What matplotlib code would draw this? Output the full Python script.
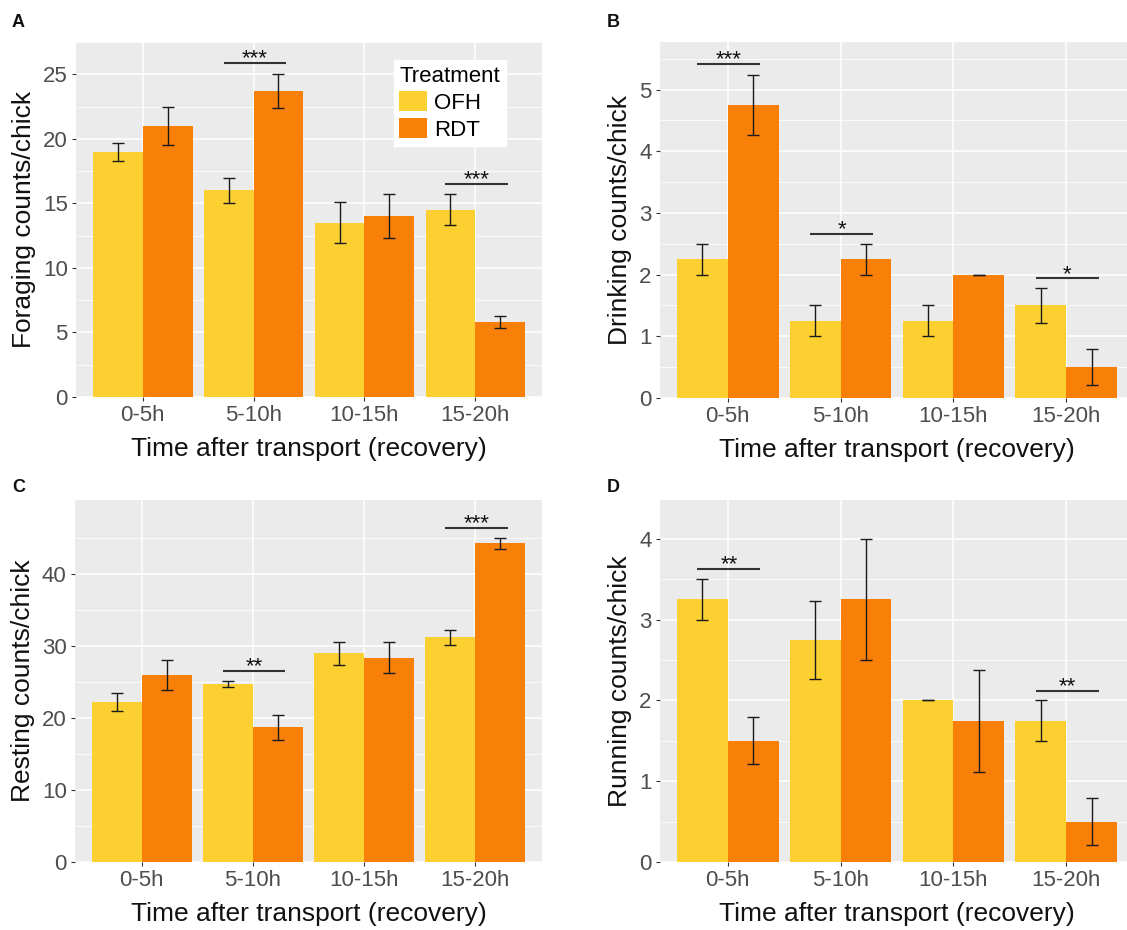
"""
Behaviour counts per chick after transport, OFH vs RDT (four panels).
"""

import numpy as np
import matplotlib
matplotlib.use("Agg")
import matplotlib.pyplot as plt
from matplotlib.patches import Patch
from matplotlib.ticker import FixedLocator

plt.rcParams["font.family"] = ["Liberation Sans", "DejaVu Sans"]

categories = ["0-5h", "5-10h", "10-15h", "15-20h"]
treatments = ["OFH", "RDT"]

forage_ofh = [19.0, 16.0, 13.5, 14.5]
forage_ofh_se = [0.7, 1.0, 1.6, 1.2]
forage_rdt = [21.0, 23.7, 14.0, 5.8]
forage_rdt_se = [1.45, 1.35, 1.7, 0.45]

drink_ofh = [2.25, 1.25, 1.25, 1.5]
drink_ofh_se = [0.25, 0.25, 0.25, 0.29]
drink_rdt = [4.75, 2.25, 2.0, 0.5]
drink_rdt_se = [0.48, 0.25, 0.0, 0.29]

rest_ofh = [22.25, 24.7, 29.0, 31.2]
rest_ofh_se = [1.25, 0.45, 1.6, 1.1]
rest_rdt = [25.95, 18.7, 28.4, 44.3]
rest_rdt_se = [2.05, 1.7, 2.2, 0.75]

run_ofh = [3.25, 2.75, 2.0, 1.75]
run_ofh_se = [0.25, 0.48, 0.0, 0.25]
run_rdt = [1.5, 3.25, 1.75, 0.5]
run_rdt_se = [0.29, 0.75, 0.63, 0.29]

# (category index, line height, stars)
forage_sig = [(1, 25.9, "***"), (3, 16.5, "***")]
drink_sig = [(0, 5.41, "***"), (1, 2.66, "*"), (3, 1.94, "*")]
rest_sig = [(1, 26.6, "**"), (3, 46.4, "***")]
run_sig = [(0, 3.63, "**"), (3, 2.12, "**")]

forage_ticks = [0, 5, 10, 15, 20, 25]
drink_ticks = [0, 1, 2, 3, 4, 5]
rest_ticks = [0, 10, 20, 30, 40]
run_ticks = [0, 1, 2, 3, 4]

COL_OFH = "#FDD031"
COL_RDT = "#F87F08"
BG = "#EBEBEB"

W, H = 1127, 930
fig = plt.figure(figsize=(W / 100, H / 100), dpi=100)


def axes_px(left, right, top, bottom):
    return fig.add_axes([left / W, 1 - bottom / H, (right - left) / W, (bottom - top) / H])


def panel(ax, ofh, ofh_se, rdt, rdt_se, sig, ylabel, ymax, ticks):
    x = np.arange(len(categories))
    w = 0.45
    ax.set_facecolor(BG)
    for s in ax.spines.values():
        s.set_visible(False)
    ax.set_xlim(-0.6, len(categories) - 0.4)
    ax.set_ylim(0, ymax)
    step = ticks[1] - ticks[0]
    ax.yaxis.set_major_locator(FixedLocator(ticks))
    ax.yaxis.set_minor_locator(FixedLocator([t + step / 2 for t in ticks]))
    ax.grid(which="major", color="white", linewidth=1.1)
    ax.grid(which="minor", axis="y", color="white", linewidth=0.55)
    ax.set_axisbelow(True)

    ax.bar(x - w / 2, ofh, w, color=COL_OFH, linewidth=0)
    ax.bar(x + w / 2, rdt, w, color=COL_RDT, linewidth=0)
    ax.errorbar(x - w / 2, ofh, yerr=ofh_se, fmt="none", ecolor="#1a1a1a",
                elinewidth=1.0, capsize=4, capthick=1.0)
    ax.errorbar(x + w / 2, rdt, yerr=rdt_se, fmt="none", ecolor="#1a1a1a",
                elinewidth=1.0, capsize=4, capthick=1.0)

    for i, yv, stars in sig:
        ax.plot([i - 0.27, i + 0.29], [yv, yv], color="#333333", linewidth=1.5,
                solid_capstyle="butt")
        ax.annotate(stars, xy=(i + 0.01, yv), xytext=(0, -1),
                    textcoords="offset points", ha="center", va="baseline",
                    fontsize=16, color="#111111")

    ax.set_xticks(x)
    ax.set_xticklabels(categories)
    ax.tick_params(which="major", length=3, width=0.8, color="#333333",
                   labelsize=16, labelcolor="#4D4D4D", pad=3)
    ax.tick_params(which="minor", length=0)
    ax.set_xlabel("Time after transport (recovery)", fontsize=19,
                  color="#111111", labelpad=8)
    ax.set_ylabel(ylabel, fontsize=19, color="#111111", labelpad=5)


def letter(x_px, bottom_px, txt):
    fig.text(x_px / W, 1 - bottom_px / H, txt, fontsize=13, fontweight="bold",
             ha="left", va="baseline", color="#111111")


ax_a = axes_px(76, 542, 42, 397)
panel(ax_a, forage_ofh, forage_ofh_se, forage_rdt, forage_rdt_se, forage_sig,
      "Foraging counts/chick", 27.5, forage_ticks)
handles = [Patch(facecolor=COL_OFH, linewidth=0), Patch(facecolor=COL_RDT, linewidth=0)]
leg = ax_a.legend(handles, treatments, title="Treatment", loc="upper left",
                  bbox_to_anchor=(0.682, 0.949), borderaxespad=0,
                  fontsize=16, title_fontsize=16, frameon=True, fancybox=False,
                  handlelength=1.25, handleheight=1.0, handletextpad=0.3,
                  labelspacing=0.2, borderpad=0.25, alignment="left")
leg.get_frame().set_facecolor("white")
leg.get_frame().set_edgecolor("white")
leg.get_frame().set_alpha(1)

ax_b = axes_px(660, 1134, 42, 398)
panel(ax_b, drink_ofh, drink_ofh_se, drink_rdt, drink_rdt_se, drink_sig,
      "Drinking counts/chick", 5.77, drink_ticks)

ax_c = axes_px(75, 542, 500, 862)
panel(ax_c, rest_ofh, rest_ofh_se, rest_rdt, rest_rdt_se, rest_sig,
      "Resting counts/chick", 50.3, rest_ticks)

ax_d = axes_px(660, 1134, 500, 862)
panel(ax_d, run_ofh, run_ofh_se, run_rdt, run_rdt_se, run_sig,
      "Running counts/chick", 4.48, run_ticks)

letter(12, 27, "A")
letter(607, 27, "B")
letter(12, 492, "C")
letter(607, 492, "D")

fig.savefig("out.png", dpi=100, facecolor="white")
